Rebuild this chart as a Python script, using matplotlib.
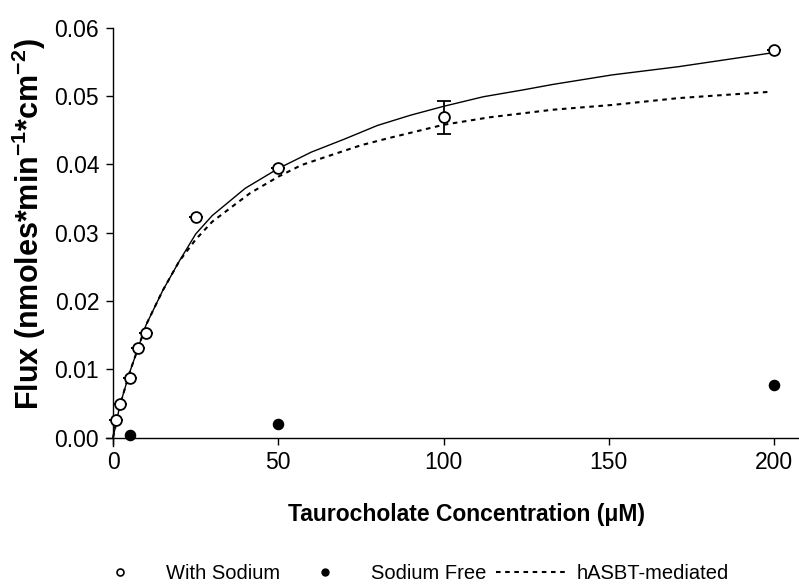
import matplotlib
matplotlib.use('Agg')
import matplotlib.pyplot as plt
from matplotlib.lines import Line2D

plt.rcParams['font.family'] = ['Liberation Sans', 'DejaVu Sans']
plt.rcParams['mathtext.fontset'] = 'custom'
plt.rcParams['mathtext.rm'] = 'Liberation Sans'
plt.rcParams['mathtext.bf'] = 'Liberation Sans:bold'

# measured flux, with sodium (open circles)
conc_na = [1, 2, 5, 7.5, 10, 25, 50, 100, 200]
flux_na = [0.0026, 0.0049, 0.0087, 0.0131, 0.0153, 0.0323, 0.0394, 0.0469, 0.0567]
err_na = [0, 0, 0, 0, 0, 0, 0, 0.0024, 0]

# sodium free (filled circles)
conc_free = [5, 50, 200]
flux_free = [0.0004, 0.0020, 0.0077]

# total fit (solid line)
fit_conc = [0, 1, 2, 5, 7.5, 10, 15, 20, 25, 30, 40, 50, 60, 70, 80, 90, 100,
            112, 124, 133, 151, 171, 199]
fit_flux = [0.0, 0.0022, 0.0046, 0.0095, 0.0130, 0.0165, 0.0215, 0.0258, 0.0298,
            0.0325, 0.0365, 0.0394, 0.0418, 0.0437, 0.0457, 0.0472, 0.0485,
            0.0499, 0.0509, 0.0517, 0.0531, 0.0543, 0.0563]

# hASBT-mediated (dashed line)
med_conc = [0, 1, 2, 5, 7.5, 10, 15, 20, 25, 30, 36, 41.5, 50, 57, 65, 75, 83,
            100, 114, 133, 151, 171, 198]
med_flux = [0.0, 0.0022, 0.0046, 0.0095, 0.0130, 0.0165, 0.0215, 0.0258, 0.0290,
            0.0316, 0.0338, 0.0358, 0.0382, 0.0399, 0.0412, 0.0428, 0.0438,
            0.0458, 0.0469, 0.0480, 0.0487, 0.0497, 0.0506]

fig = plt.figure(figsize=(7.99, 5.85), dpi=100)
ax = fig.add_axes([0.1332, 0.2368, 0.8666, 0.7157])

ax.plot(fit_conc, fit_flux, color='black', lw=1.0, zorder=2)
ax.plot(med_conc, med_flux, color='black', lw=1.5, dashes=(2.2, 2.2), zorder=2)
ax.errorbar(conc_na, flux_na, yerr=err_na, fmt='none', ecolor='black',
            elinewidth=1.3, capsize=4.7, capthick=1.3, zorder=3)
ax.plot(conc_na, flux_na, 'o', ms=7.8, mfc='white', mec='black', mew=1.3,
        ls='none', zorder=4)
ax.plot(conc_free, flux_free, 'o', ms=7.3, mfc='black', mec='black',
        ls='none', zorder=4)

ax.set_xlim(-2, 207.5)
ax.set_ylim(-0.0013, 0.06)
ax.spines['top'].set_visible(False)
ax.spines['right'].set_visible(False)
ax.spines['left'].set_position(('data', 0))
ax.spines['bottom'].set_position(('data', 0))
for s in ['left', 'bottom']:
    ax.spines[s].set_linewidth(1.0)

ax.set_xticks([0, 50, 100, 150, 200])
ax.set_yticks([0.00, 0.01, 0.02, 0.03, 0.04, 0.05, 0.06])
ax.set_yticklabels(['0.00', '0.01', '0.02', '0.03', '0.04', '0.05', '0.06'])
ax.tick_params(direction='out', length=5, width=1.0, labelsize=16.5, pad=5)

fig.text(0.584, 0.121, 'Taurocholate Concentration (\u03bcM)',
         ha='center', va='center', fontsize=16.5, fontweight='bold')
fig.text(0.036, 0.617,
         r'Flux (nmoles*min$^{\mathbf{-1}}$*cm$^{\mathbf{-2}}$)',
         ha='center', va='center', rotation=90, fontsize=22, fontweight='bold')

handles = [
    Line2D([], [], marker='o', ls='none', ms=5, mfc='white', mec='black', mew=1.2),
    Line2D([], [], marker='o', ls='none', ms=5, mfc='black', mec='black'),
    Line2D([], [], color='black', lw=1.5, dashes=(2.2, 2.2)),
]
labels = ['With Sodium', 'Sodium Free', 'hASBT-mediated']
fig.legend(handles, labels, loc='center', bbox_to_anchor=(0.51, 0.02),
           ncol=3, frameon=False, fontsize=14.5, handlelength=3.4,
           handletextpad=0.6, columnspacing=0.5)

fig.savefig('out.png', dpi=100)
